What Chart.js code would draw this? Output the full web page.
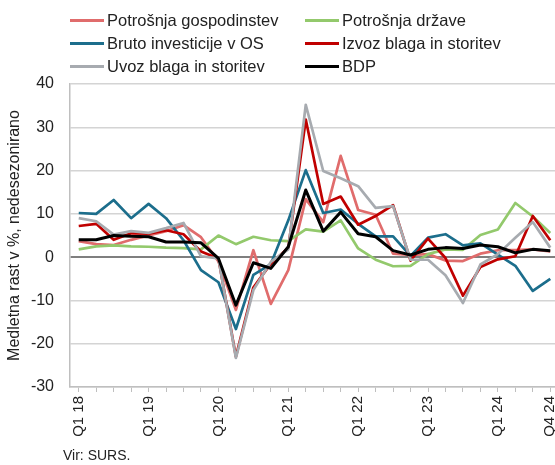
<!DOCTYPE html>
<html>
<head>
<meta charset="utf-8">
<script src="https://cdn.jsdelivr.net/npm/chart.js@4.4.1/dist/chart.umd.min.js"></script>
<style>
  html, body { margin: 0; padding: 0; background: #fff; overflow: hidden; width: 555px; height: 465px; }
  body { position: relative; font-family: 'Liberation Sans', Arial, sans-serif; color: #222; }
  #chart { position: absolute; left: 0; top: 0; }
  .legend { position: absolute; left: 0; top: 0; width: 555px; height: 80px; }
  .item { position: absolute; display: flex; align-items: center; font-size: 16.5px; line-height: 20px; white-space: nowrap; }
  .item span.line { display: inline-block; width: 34px; height: 3px; margin-right: 3px; }
  #source { position: absolute; left: 63px; top: 447px; font-size: 14px; }
</style>
</head>
<body>
<canvas id="chart" width="559" height="465"></canvas>
<div class="legend" id="legend"></div>
<div id="source">Vir: SURS.</div>
<script>
// --- Podatki (medletna rast v %, nedesezonirano) ---
const QUARTERS = [
  'Q1 18', 'Q2 18', 'Q3 18', 'Q4 18', 'Q1 19', 'Q2 19', 'Q3 19', 'Q4 19',
  'Q1 20', 'Q2 20', 'Q3 20', 'Q4 20', 'Q1 21', 'Q2 21', 'Q3 21', 'Q4 21',
  'Q1 22', 'Q2 22', 'Q3 22', 'Q4 22', 'Q1 23', 'Q2 23', 'Q3 23', 'Q4 23',
  'Q1 24', 'Q2 24', 'Q3 24', 'Q4 24',
];
const SHOWN_TICKS = ['Q1 18', 'Q1 19', 'Q1 20', 'Q1 21', 'Q1 22', 'Q1 23', 'Q1 24', 'Q4 24'];

const gospodinjstva = [3.7, 3.0, 2.8, 4.0, 5.0, 6.0, 7.4, 4.6, -1.0, -12.2, 1.6, -10.8, -3.0, 13.4,
  8.1, 23.4, 10.9, 9.8, 0.8, 0.5, 0.7, -0.8, -0.9, 0.8, 1.6, 1.6, 1.8, 1.3];
const drzava = [1.8, 2.5, 2.7, 2.5, 2.4, 2.2, 2.1, 1.8, 5.0, 3.0, 4.7, 3.9, 3.7, 6.4,
  5.9, 8.5, 2.0, -0.6, -2.1, -2.0, 0.7, 1.8, 1.7, 5.1, 6.4, 12.5, 9.4, 5.6];
const investicije = [10.2, 10.0, 13.2, 9.0, 12.3, 9.0, 3.9, -3.0, -5.8, -16.6, -4.1, -1.6, 8.5, 20.1,
  10.2, 11.0, 7.7, 4.8, 4.8, 0.3, 4.5, 5.3, 2.7, 3.2, 0.6, -2.0, -7.8, -5.0];
const izvoz = [7.2, 7.7, 4.0, 5.5, 5.4, 6.2, 5.3, 1.3, -0.3, -23.0, -7.0, -1.5, 2.2, 31.8,
  12.3, 14.0, 7.5, 9.5, 12.0, -0.8, 4.3, -0.2, -8.9, -2.3, -0.5, 0.2, 9.5, 3.9];
const uvoz = [9.0, 8.3, 5.2, 6.0, 5.6, 6.7, 7.9, 0.2, -0.3, -23.3, -7.6, -1.1, 1.8, 35.2,
  19.9, 18.2, 16.4, 11.4, 11.8, -0.6, -0.6, -4.2, -10.6, -1.7, 0.7, 4.5, 8.1, 2.2];
const bdp = [4.0, 4.0, 5.0, 4.8, 4.7, 3.5, 3.5, 3.3, -0.3, -11.1, -1.3, -2.6, 2.4, 15.5,
  6.0, 10.4, 5.4, 4.7, 1.5, 0.5, 1.8, 2.2, 2.0, 2.8, 2.4, 1.0, 1.8, 1.5];

const SERIES = [
  { label: 'Potrošnja gospodinstev', data: gospodinjstva, color: '#E06C6C' },
  { label: 'Potrošnja države', data: drzava, color: '#93C96C' },
  { label: 'Bruto investicije v OS', data: investicije, color: '#1C6E8C' },
  { label: 'Izvoz blaga in storitev', data: izvoz, color: '#C00000' },
  { label: 'Uvoz blaga in storitev', data: uvoz, color: '#A7ABB0' },
  { label: 'BDP', data: bdp, color: '#000000' },
];

const FONT = "'Liberation Sans', Arial, sans-serif";
const TEXT_COLOR = '#222';

// --- Legenda (2 stolpca) ---
const legendEl = document.getElementById('legend');
SERIES.forEach((s, i) => {
  const item = document.createElement('div');
  item.className = 'item';
  item.style.left = (i % 2 === 0 ? 70 : 305) + 'px';
  item.style.top = (10 + Math.floor(i / 2) * 23) + 'px';
  item.innerHTML = '<span class="line" style="background:' + s.color + '"></span>' + s.label;
  legendEl.appendChild(item);
});

// --- Graf ---
const chart = new Chart(document.getElementById('chart'), {
  type: 'line',
  data: {
    labels: QUARTERS,
    datasets: SERIES.map((s, i) => ({
      label: s.label,
      data: s.data,
      borderColor: s.color,
      backgroundColor: s.color,
      borderWidth: s.label === 'BDP' ? 3 : 2.7,
      pointRadius: 0,
      tension: 0,
      fill: false,
      borderJoinStyle: 'round',
      order: SERIES.length - i,
    })),
  },
  options: {
    responsive: false,
    animation: false,
    devicePixelRatio: 1,
    layout: { padding: { top: 84, right: 0, bottom: 0, left: 0 } },
    plugins: { legend: { display: false }, tooltip: { enabled: false } },
    scales: {
      x: {
        type: 'category',
        offset: true,
        afterFit: (scale) => {
          scale.height = 78;
          scale.paddingLeft = 0;
          scale.paddingRight = 0;
        },
        grid: {
          offset: false,
          drawOnChartArea: false,
          drawTicks: true,
          tickLength: 5,
          color: '#bfbfbf',
          lineWidth: 1,
        },
        border: { display: true, color: '#bfbfbf', width: 1.5 },
        ticks: {
          autoSkip: false,
          minRotation: 90,
          maxRotation: 90,
          padding: 4,
          color: TEXT_COLOR,
          font: { family: FONT, size: 15 },
          callback: function (value) {
            const lab = this.getLabelForValue(value);
            return SHOWN_TICKS.includes(lab) ? lab : '';
          },
        },
      },
      y: {
        min: -30,
        max: 40,
        afterFit: (scale) => { scale.width = 70; },
        grid: {
          drawTicks: false,
          color: (ctx) => (ctx.tick.value === 0 ? '#7f7f7f' : '#d4d4d4'),
          lineWidth: (ctx) => (ctx.tick.value === 0 ? 2 : 1.5),
        },
        border: { display: true, color: '#bfbfbf', width: 1.5 },
        ticks: {
          stepSize: 10,
          padding: 16,
          color: TEXT_COLOR,
          font: { family: FONT, size: 16 },
        },
        title: {
          display: true,
          text: 'Medletna rast v %, nedesezonirano',
          color: TEXT_COLOR,
          font: { family: FONT, size: 16 },
          padding: { top: 5, bottom: 0 },
        },
      },
    },
  },
});
</script>
</body>
</html>
